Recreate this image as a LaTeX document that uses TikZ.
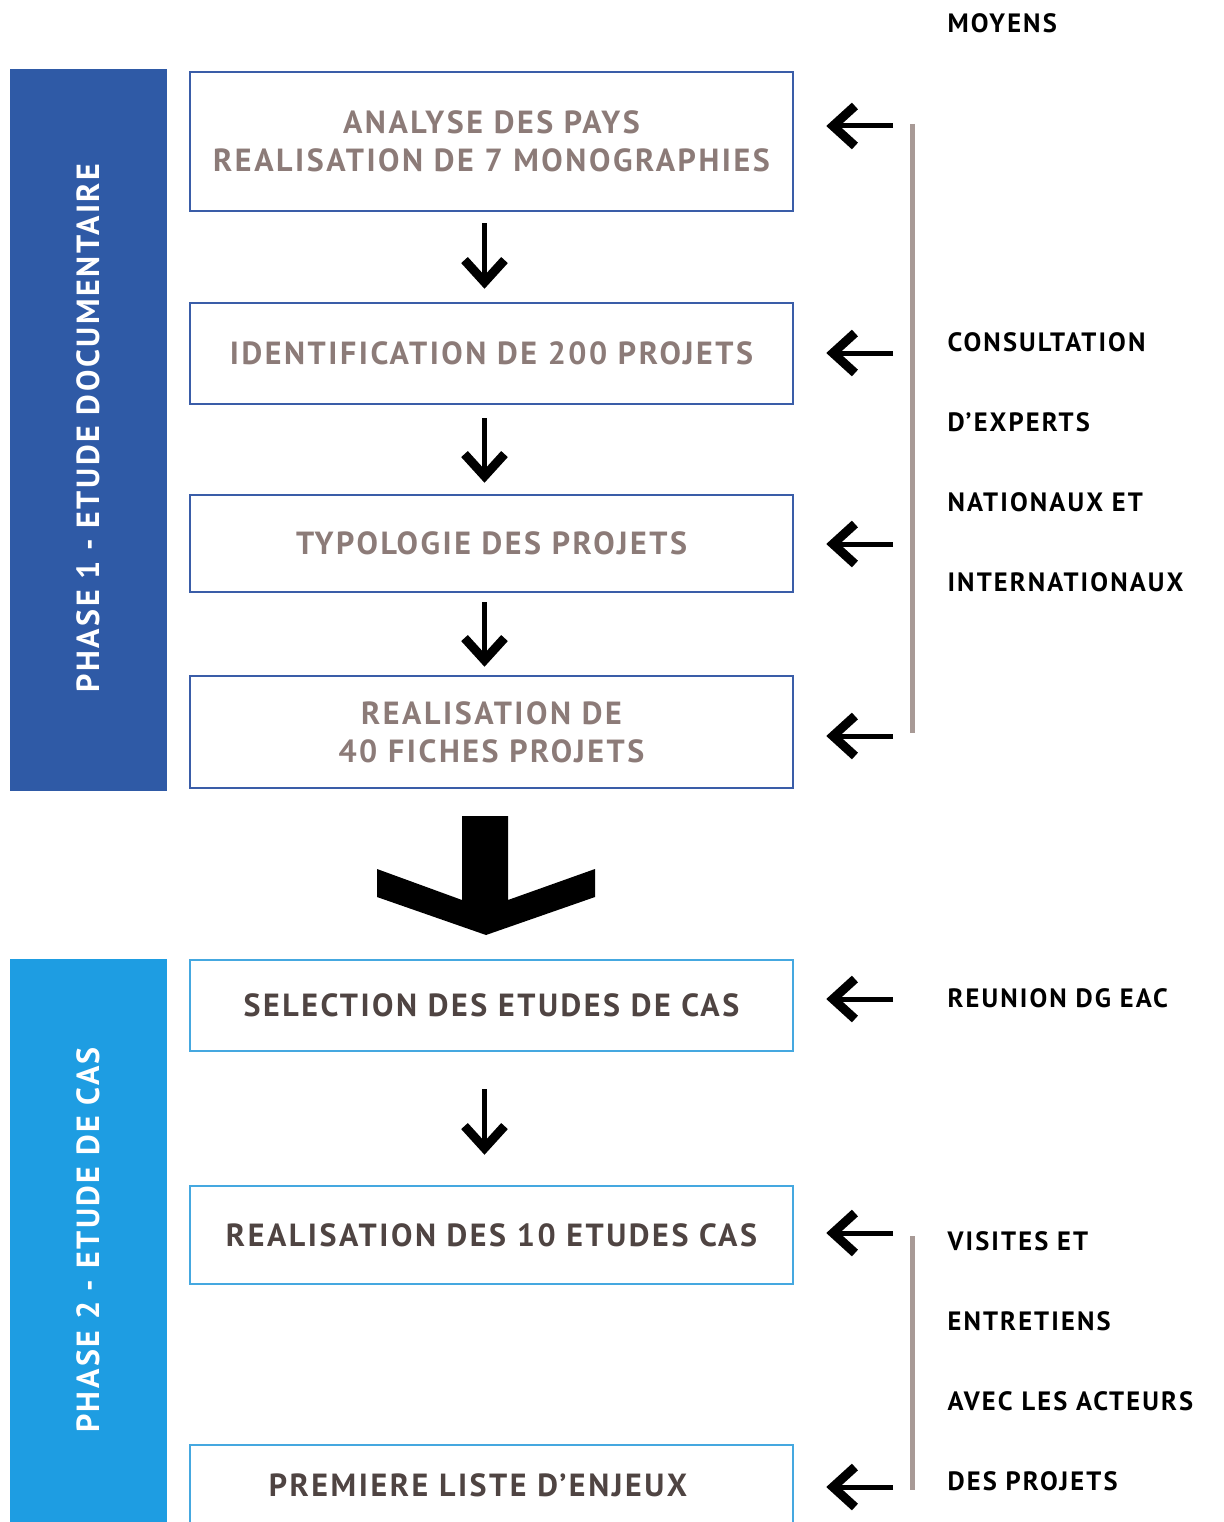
\documentclass[tikz,border=0pt]{standalone}
\usepackage{fontspec}
\setmainfont{PT Sans}[LetterSpace=8.0]
\usetikzlibrary{arrows.meta}
\definecolor{pone}{HTML}{2F5AA6}
\definecolor{ptwo}{HTML}{1E9DE2}
\definecolor{bone}{HTML}{3A5DA8}
\definecolor{btwo}{HTML}{45A8E0}
\definecolor{tone}{HTML}{8C7B78}
\definecolor{ttwo}{HTML}{4F4442}
\definecolor{vline}{HTML}{A89A96}
\tikzset{
  every node/.style={font=\bfseries},
  box1/.style={draw=bone, line width=2.5pt, minimum width=603pt, align=center, inner sep=0pt, text=tone, font=\bfseries\fontsize{32}{38}\selectfont},
  box2/.style={box1, draw=btwo, text=ttwo},
  phase/.style={inner sep=0pt, minimum width=157pt},
  plabel/.style={text=white, rotate=90, font=\bfseries\fontsize{32}{34}\selectfont},
  side/.style={anchor=west, text=black, font=\bfseries\fontsize{26.5}{28}\selectfont},
  darr/.style={line width=5pt, -{Straight Barb[length=22pt, width=40pt, line width=9pt]}},
  larr/.style={line width=5pt, -{Straight Barb[length=22pt, width=40pt, line width=9pt]}},
  bar/.style={line width=5pt, vline}
}
\begin{document}
\begin{tikzpicture}[x=1pt, y=-1pt]
\useasboundingbox (0,0) rectangle (1223,1522);
\fill[white] (0,0) rectangle (1223,1522);
% phase bars
\node[phase, fill=pone, minimum height=722pt] (ph1) at (88.5,430) {};
\node[plabel] (ph1t) at (88,428) {PHASE 1 - ETUDE DOCUMENTAIRE};
\node[phase, fill=ptwo, minimum height=580pt] (ph2) at (88.5,1249) {};
\node[plabel] (ph2t) at (88,1240) {PHASE 2 - ETUDE DE CAS};
% boxes
\node[box1, minimum height=139pt] (b1) at (491.5,141.5) {ANALYSE DES PAYS\\REALISATION DE 7 MONOGRAPHIES};
\node[box1, minimum height=101pt] (b2) at (491.5,353.5) {IDENTIFICATION DE 200 PROJETS};
\node[box1, minimum height=97pt] (b3) at (491.5,543.5) {TYPOLOGIE DES PROJETS};
\node[box1, minimum height=112pt] (b4) at (491.5,732) {REALISATION DE\\40 FICHES PROJETS};
\node[box2, minimum height=91pt] (b5) at (491.5,1005.5) {SELECTION DES ETUDES DE CAS};
\node[box2, minimum height=98pt] (b6) at (491.5,1235) {REALISATION DES 10 ETUDES CAS};
\node[box2, minimum height=84pt, text depth=0pt] (b7) at (491.5,1487) {};
\node[text=ttwo, font=\bfseries\fontsize{32}{38}\selectfont] (b7t) at (478,1485) {PREMIERE LISTE D’ENJEUX};
% down arrows
\draw[darr, shorten <=11pt, shorten >=13pt] ([xshift=-7pt]b1.south) -- ([xshift=-7pt]b2.north);
\draw[darr, shorten <=13pt, shorten >=11pt] ([xshift=-7pt]b2.south) -- ([xshift=-7pt]b3.north);
\draw[darr, shorten <=9pt, shorten >=8pt] ([xshift=-7pt]b3.south) -- ([xshift=-7pt]b4.north);
\draw[darr, shorten <=37pt, shorten >=30pt] ([xshift=-7pt]b5.south) -- ([xshift=-7pt]b6.north);
% big arrow
\fill[black] (462,816) -- (508,816) -- (508,900) -- (595,869) -- (595,897) -- (486,935) -- (377,897) -- (377,869) -- (462,900) -- cycle;
% side lines
\coordinate (v1a) at (912,124);
\coordinate (v1b) at (912,733);
\coordinate (v2a) at (912,1236);
\coordinate (v2b) at (912,1490);
\draw[bar] (v1a) -- (v1b);
\draw[bar] (v2a) -- (v2b);
% left arrows
\coordinate (a1) at (893,126);
\coordinate (a2) at (893,353);
\coordinate (a3) at (893,544);
\coordinate (a4) at (893,736);
\coordinate (a5) at (893,999);
\coordinate (a6) at (893,1233);
\coordinate (a7) at (893,1487);
\draw[larr, shorten >=32pt] (a1) -- (a1 -| b1.east);
\draw[larr, shorten >=32pt] (a2) -- (a2 -| b2.east);
\draw[larr, shorten >=32pt] (a3) -- (a3 -| b3.east);
\draw[larr, shorten >=32pt] (a4) -- (a4 -| b4.east);
\draw[larr, shorten >=32pt] (a5) -- (a5 -| b5.east);
\draw[larr, shorten >=32pt] (a6) -- (a6 -| b6.east);
\draw[larr, shorten >=32pt] (a7) -- (a7 -| b7.east);
% side texts
\node[side] (moy) at (944,23) {MOYENS};
\node[side] (s1) at (944,342) {CONSULTATION};
\node[side] (s2) at (944,422) {D’EXPERTS};
\node[side] (s3) at (944,502) {NATIONAUX ET};
\node[side] (s4) at (944,582) {INTERNATIONAUX};
\node[side] (s5) at (944,998) {REUNION DG EAC};
\node[side] (s6) at (944,1241) {VISITES ET};
\node[side] (s7) at (944,1321) {ENTRETIENS};
\node[side] (s8) at (944,1401) {AVEC LES ACTEURS};
\node[side] (s9) at (944,1481) {DES PROJETS};
\end{tikzpicture}
\end{document}
